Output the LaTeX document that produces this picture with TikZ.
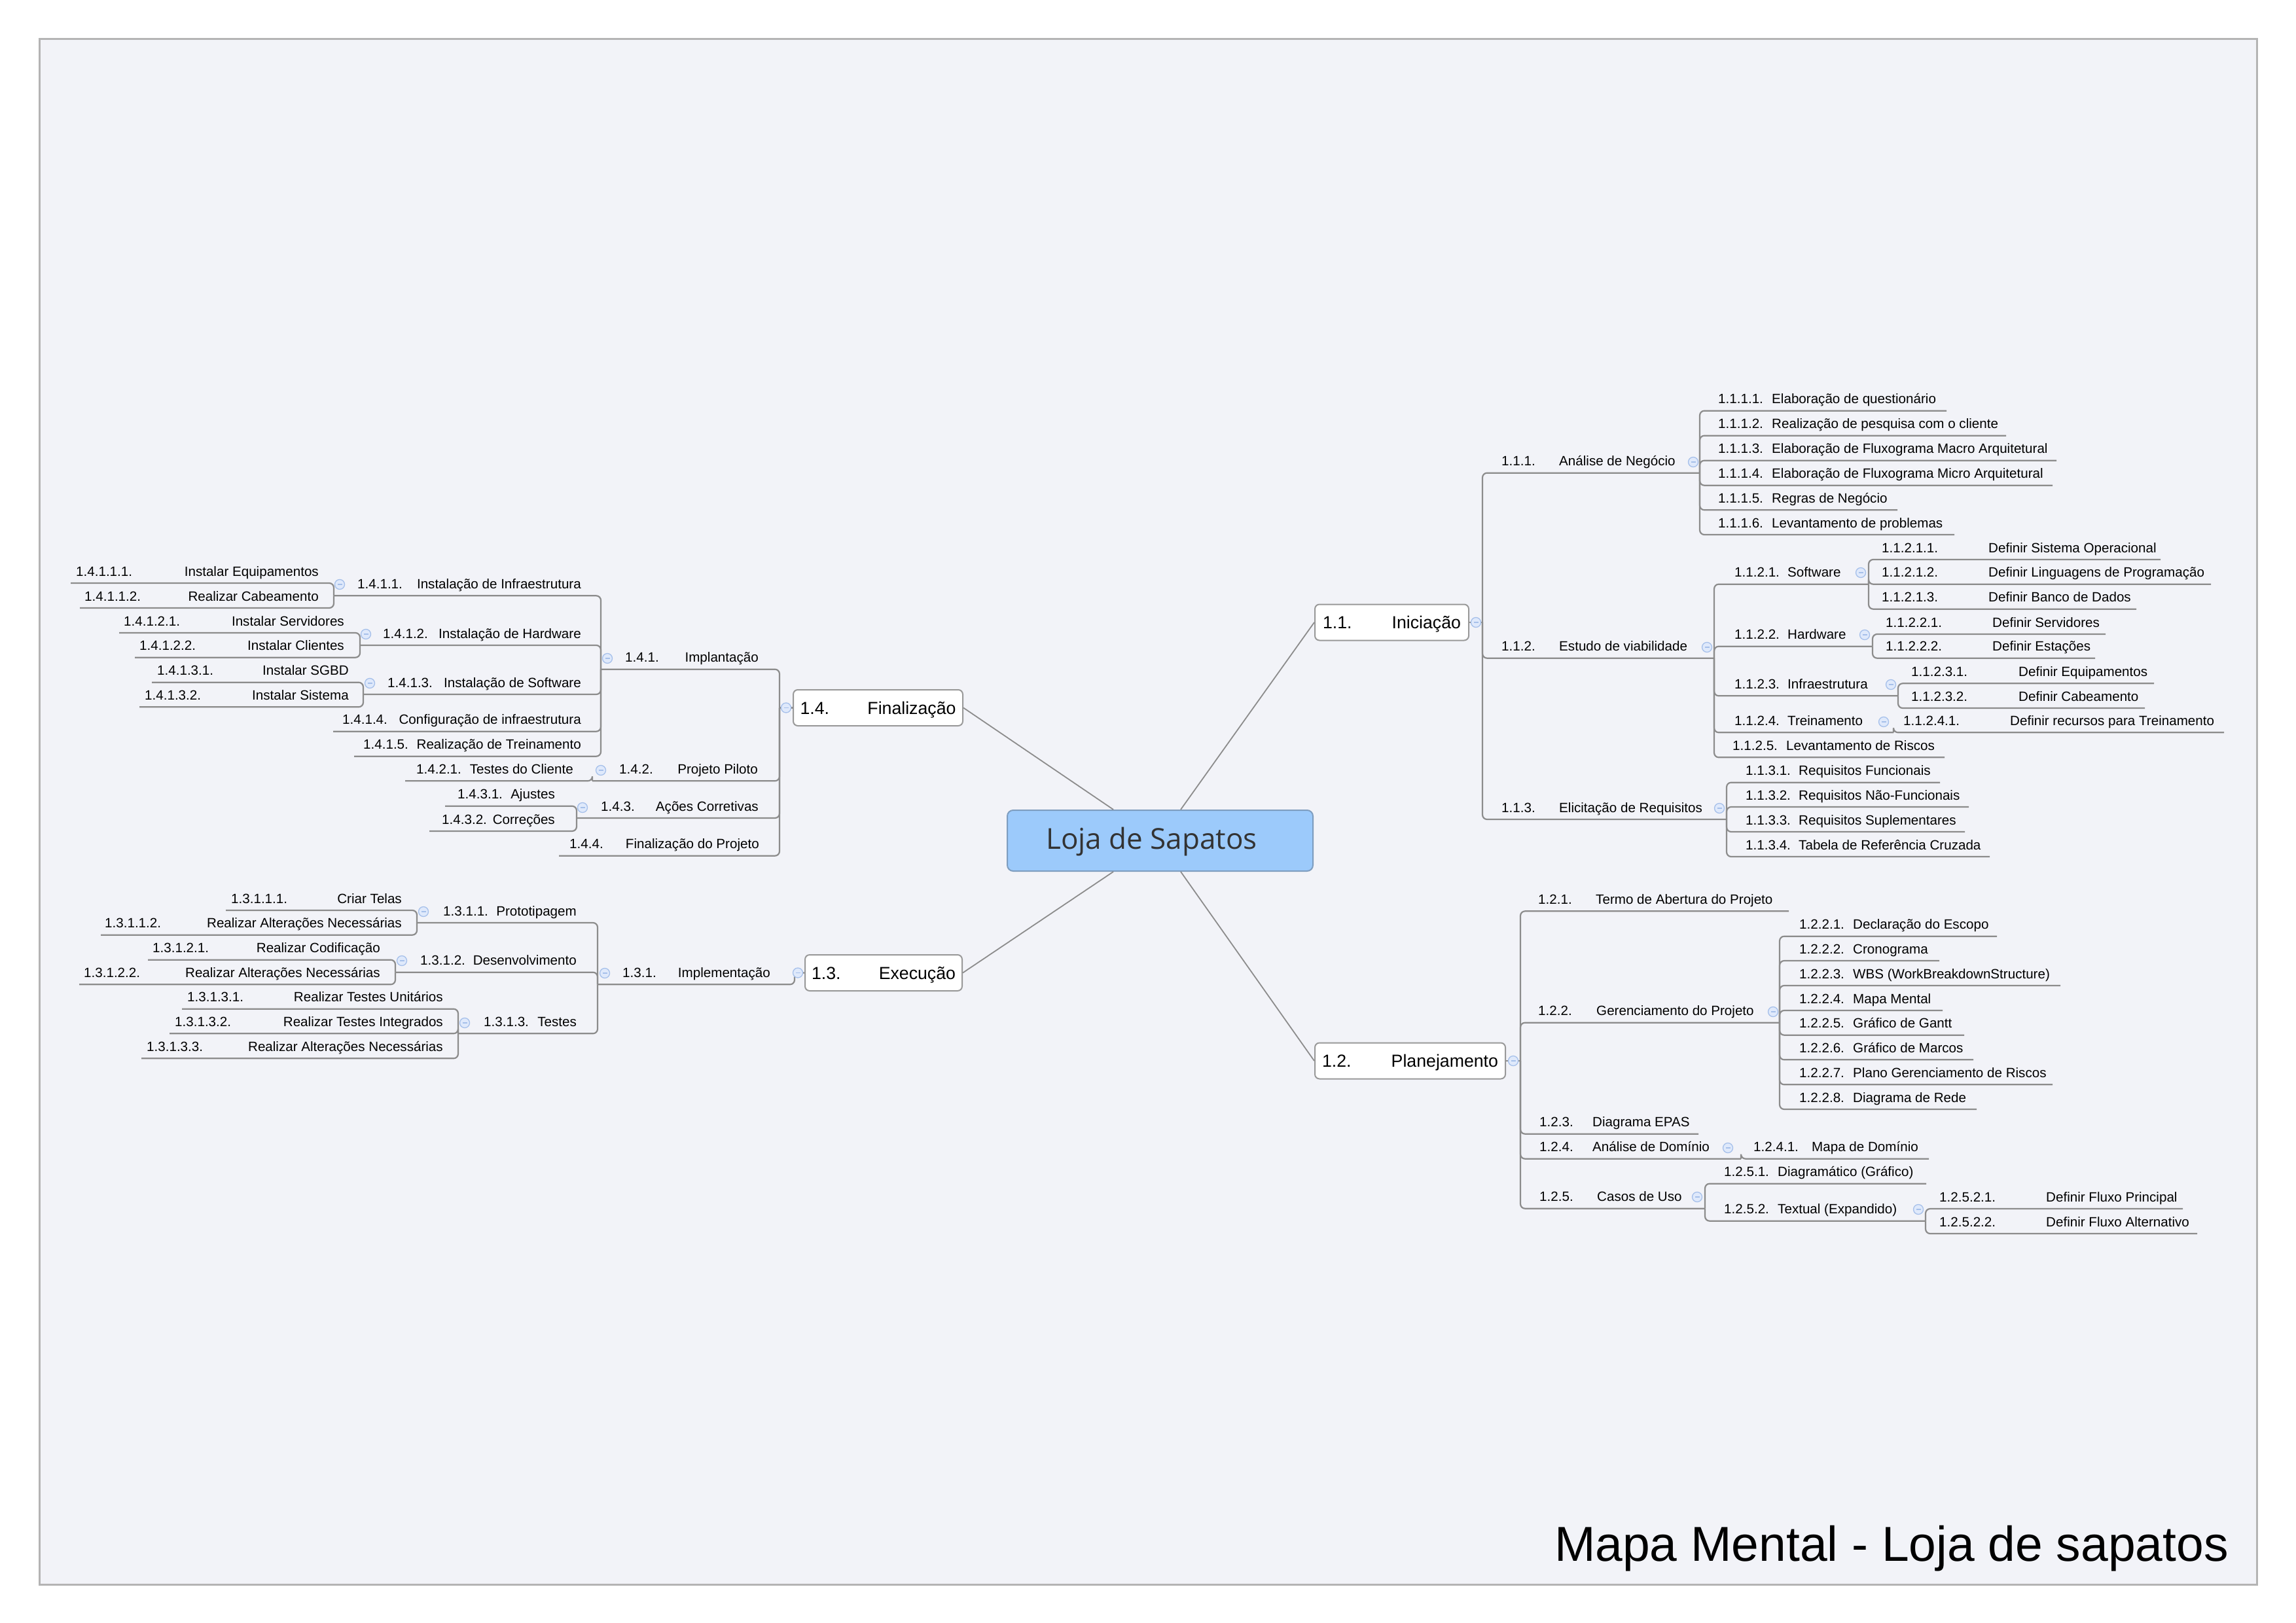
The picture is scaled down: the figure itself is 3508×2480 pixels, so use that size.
\documentclass[tikz,border=0pt]{standalone}
\usepackage{fontspec}
\setmainfont{Liberation Sans}
\newfontfamily\cfont{Open Sans}
\usetikzlibrary{calc}
\definecolor{bgc}{HTML}{F2F3F8}
\definecolor{framec}{HTML}{B4B4B4}
\definecolor{linec}{HTML}{8C8C8C}
\definecolor{boxb}{HTML}{999999}
\definecolor{cfill}{HTML}{9CCAFB}
\definecolor{cbord}{HTML}{7E9DBF}
\definecolor{btnf}{HTML}{DFE9FB}
\definecolor{btnb}{HTML}{A6C0EA}
\newcommand\mmR[7]{%
  \coordinate (#1) at (#2,#3);
  \node[txt,anchor=base west] (#1n) at (#4,#3-11) {#6};
  \node[txt,anchor=base west] (#1l) at (#5,#3-11) {#7};}
\newcommand\mmL[7]{%
  \coordinate (#1) at (#2,#3);
  \node[txt,anchor=base west] (#1n) at (#4,#3-11) {#6};
  \node[txt,anchor=base east] (#1l) at (#5,#3-11) {#7};}
\tikzset{
  conn/.style={draw=linec, line width=2.2pt, rounded corners=7pt},
  mainln/.style={draw=linec, line width=1.8pt},
  txt/.style={inner sep=0pt, font=\fontsize{20.6}{24}\selectfont, text=black},
  boxst/.style={draw=boxb, fill=white, line width=2pt, rounded corners=7pt, inner sep=0pt,
    font=\fontsize{26.7}{30}\selectfont, text height=19pt, text depth=0pt, minimum height=55pt},
  colbtn/.style={circle, draw=btnb, fill=btnf, line width=1.3pt, minimum size=15pt, inner sep=0pt,
    path picture={\draw[btnb, line width=1.3pt] ([xshift=-3.5pt]path picture bounding box.center) -- ([xshift=3.5pt]path picture bounding box.center);}}
}
\begin{document}
\begin{tikzpicture}[x=1pt,y=-1pt]
\useasboundingbox (0,0) rectangle (3508,2480);
\fill[white] (0,0) rectangle (3508,2480);
\draw[draw=framec, fill=bgc, line width=3pt] (60,60) rectangle (3448,2421);

% central and main boxes
\node[draw=cbord, fill=cfill, line width=2pt, rounded corners=9pt, minimum width=467pt, minimum height=93pt, inner sep=0pt] (c) at (1772.5,1284.5) {};
\node[anchor=base west, inner sep=0pt, font=\cfont\fontsize{44}{50}\selectfont, text=black!80] (ct) at (1598,1297) {Loja de Sapatos};

\node[boxst, minimum width=235pt] (b11) at (2126.5,951) {\makebox[211pt]{1.1.\hfill Iniciação}};
\node[boxst, minimum width=291pt] (b12) at (2154.5,1621) {\makebox[269pt]{1.2.\hfill Planejamento}};
\node[boxst, minimum width=259pt] (b14) at (1341.5,1081.5) {\makebox[238pt]{1.4.\hfill Finalização}};
\node[boxst, minimum width=240pt] (b13) at (1350,1486.5) {\makebox[220pt]{1.3.\hfill Execução}};

\draw[mainln] (b14.east) -- ($(c.north west)+(163,0)$);
\draw[mainln] (b13.east) -- ($(c.south west)+(163,0)$);
\draw[mainln] ($(c.north west)+(266,0)$) -- (b11.west);
\draw[mainln] ($(c.south west)+(266,0)$) -- (b12.west);

\coordinate (J11) at (2265,951);
\coordinate (J12) at (2323,1621);
\coordinate (J14) at (1191,1081.5);
\coordinate (J13) at (1214,1486.5);

% ---- right: 1.1
\mmR{t111}{2597}{722.7}{2294}{2382}{1.1.1.}{Análise de Negócio}
\mmR{t1111}{2974}{627.7}{2625}{2707}{1.1.1.1.}{Elaboração de questionário}
\mmR{t1112}{3065}{665.7}{2625}{2707}{1.1.1.2.}{Realização de pesquisa com o cliente}
\mmR{t1113}{3142}{703.7}{2625}{2707}{1.1.1.3.}{Elaboração de Fluxograma Macro Arquitetural}
\mmR{t1114}{3136}{741.7}{2625}{2707}{1.1.1.4.}{Elaboração de Fluxograma Micro Arquitetural}
\mmR{t1115}{2899}{779.3}{2625}{2707}{1.1.1.5.}{Regras de Negócio}
\mmR{t1116}{2986}{817}{2625}{2707}{1.1.1.6.}{Levantamento de problemas}
\mmR{t112}{2619}{1005.7}{2294}{2382}{1.1.2.}{Estudo de viabilidade}
\mmR{t1121}{2855}{892.7}{2650}{2731}{1.1.2.1.}{Software}
\mmR{t11211}{3301}{855}{2875}{3038}{1.1.2.1.1.}{Definir Sistema Operacional}
\mmR{t11212}{3378}{892.7}{2875}{3038}{1.1.2.1.2.}{Definir Linguagens de Programação}
\mmR{t11213}{3264}{930.7}{2875}{3038}{1.1.2.1.3.}{Definir Banco de Dados}
\mmR{t1122}{2861}{987.7}{2650}{2731}{1.1.2.2.}{Hardware}
\mmR{t11221}{3217}{969}{2881}{3044}{1.1.2.2.1.}{Definir Servidores}
\mmR{t11222}{3201}{1005.7}{2881}{3044}{1.1.2.2.2.}{Definir Estações}
\mmR{t1123}{2900}{1063.3}{2650}{2731}{1.1.2.3.}{Infraestrutura}
\mmR{t11231}{3291}{1044.3}{2920}{3084}{1.1.2.3.1.}{Definir Equipamentos}
\mmR{t11232}{3277}{1082}{2920}{3084}{1.1.2.3.2.}{Definir Cabeamento}
\mmR{t1124}{2893}{1119.3}{2650}{2731}{1.1.2.4.}{Treinamento}
\mmR{t11241}{3398}{1119.3}{2908}{3071}{1.1.2.4.1.}{Definir recursos para Treinamento}
\mmR{t1125}{2971}{1157.3}{2647}{2729}{1.1.2.5.}{Levantamento de Riscos}
\mmR{t113}{2638}{1252}{2294}{2382}{1.1.3.}{Elicitação de Requisitos}
\mmR{t1131}{2964}{1195.7}{2667}{2748}{1.1.3.1.}{Requisitos Funcionais}
\mmR{t1132}{3008}{1233}{2667}{2748}{1.1.3.2.}{Requisitos Não-Funcionais}
\mmR{t1133}{3002}{1271}{2667}{2748}{1.1.3.3.}{Requisitos Suplementares}
\mmR{t1134}{3040}{1309}{2667}{2748}{1.1.3.4.}{Tabela de Referência Cruzada}

% ---- right: 1.2
\mmR{t121}{2733}{1392.3}{2350}{2438}{1.2.1.}{Termo de Abertura do Projeto}
\mmR{t122}{2719}{1562.7}{2350}{2439}{1.2.2.}{Gerenciamento do Projeto}
\mmR{t1221}{3051}{1430.7}{2749}{2831}{1.2.2.1.}{Declaração do Escopo}
\mmR{t1222}{2963}{1468}{2749}{2831}{1.2.2.2.}{Cronograma}
\mmR{t1223}{3148}{1506}{2749}{2831}{1.2.2.3.}{WBS (WorkBreakdownStructure)}
\mmR{t1224}{2968}{1544}{2749}{2831}{1.2.2.4.}{Mapa Mental}
\mmR{t1225}{3001}{1581.7}{2749}{2831}{1.2.2.5.}{Gráfico de Gantt}
\mmR{t1226}{3015}{1619.3}{2749}{2831}{1.2.2.6.}{Gráfico de Marcos}
\mmR{t1227}{3136}{1657.3}{2749}{2831}{1.2.2.7.}{Plano Gerenciamento de Riscos}
\mmR{t1228}{3020}{1695}{2749}{2831}{1.2.2.8.}{Diagrama de Rede}
\mmR{t123}{2595}{1732.7}{2352}{2433}{1.2.3.}{Diagrama EPAS}
\mmR{t124}{2660}{1770.7}{2352}{2433}{1.2.4.}{Análise de Domínio}
\mmR{t1241}{2947}{1770.7}{2679}{2768}{1.2.4.1.}{Mapa de Domínio}
\mmR{t125}{2605}{1846.7}{2352}{2440}{1.2.5.}{Casos de Uso}
\mmR{t1251}{2943}{1808.7}{2634}{2716}{1.2.5.1.}{Diagramático (Gráfico)}
\mmR{t1252}{2942}{1865.7}{2634}{2716}{1.2.5.2.}{Textual (Expandido)}
\mmR{t12521}{3335}{1847}{2963}{3126}{1.2.5.2.1.}{Definir Fluxo Principal}
\mmR{t12522}{3357}{1885}{2963}{3126}{1.2.5.2.2.}{Definir Fluxo Alternativo}

% ---- left: 1.4
\mmL{t141}{918}{1022.7}{955}{1159}{1.4.1.}{Implantação}
\mmL{t1411}{510}{910.3}{546}{888}{1.4.1.1.}{Instalação de Infraestrutura}
\mmL{t14111}{108}{891}{116}{487}{1.4.1.1.1.}{Instalar Equipamentos}
\mmL{t14112}{122}{929}{129}{487}{1.4.1.1.2.}{Realizar Cabeamento}
\mmL{t1412}{550}{986}{585}{888}{1.4.1.2.}{Instalação de Hardware}
\mmL{t14121}{182}{967}{189}{526}{1.4.1.2.1.}{Instalar Servidores}
\mmL{t14122}{206}{1004.7}{213}{526}{1.4.1.2.2.}{Instalar Clientes}
\mmL{t1413}{555}{1061}{592}{888}{1.4.1.3.}{Instalação de Software}
\mmL{t14131}{232}{1042.7}{240}{533}{1.4.1.3.1.}{Instalar SGBD}
\mmL{t14132}{213}{1080.3}{221}{533}{1.4.1.3.2.}{Instalar Sistema}
\mmL{t1414}{509}{1117.7}{523}{888}{1.4.1.4.}{Configuração de infraestrutura}
\mmL{t1415}{541}{1155.7}{555}{888}{1.4.1.5.}{Realização de Treinamento}
\mmL{t142}{905}{1193.3}{946}{1158}{1.4.2.}{Projeto Piloto}
\mmL{t1421}{619}{1193.3}{636}{876}{1.4.2.1.}{Testes do Cliente}
\mmL{t143}{881}{1250}{918}{1159}{1.4.3.}{Ações Corretivas}
\mmL{t1431}{680}{1231.7}{699}{848}{1.4.3.1.}{Ajustes}
\mmL{t1432}{656}{1270}{675}{848}{1.4.3.2.}{Correções}
\mmL{t144}{854}{1307.7}{870}{1160}{1.4.4.}{Finalização do Projeto}

% ---- left: 1.3
\mmL{t131}{913}{1504.3}{951}{1177}{1.3.1.}{Implementação}
\mmL{t1311}{637}{1410}{677}{881}{1.3.1.1.}{Prototipagem}
\mmL{t13111}{345}{1391}{353}{614}{1.3.1.1.1.}{Criar Telas}
\mmL{t13112}{154}{1428.7}{160}{614}{1.3.1.1.2.}{Realizar Alterações Necessárias}
\mmL{t1312}{604}{1485.7}{642}{881}{1.3.1.2.}{Desenvolvimento}
\mmL{t13121}{226}{1466.7}{233}{581}{1.3.1.2.1.}{Realizar Codificação}
\mmL{t13122}{121}{1504.3}{128}{581}{1.3.1.2.2.}{Realizar Alterações Necessárias}
\mmL{t1313}{700}{1579.3}{739}{881}{1.3.1.3.}{Testes}
\mmL{t13131}{278}{1541.7}{286}{677}{1.3.1.3.1.}{Realizar Testes Unitários}
\mmL{t13132}{259}{1579.3}{267}{677}{1.3.1.3.2.}{Realizar Testes Integrados}
\mmL{t13133}{216}{1617.3}{224}{677}{1.3.1.3.3.}{Realizar Alterações Necessárias}

% connectors
\draw[conn] (b11.east) -- (J11);
\draw[conn] (b12.east) -- (J12);
\draw[conn] (b14.west) -- (J14);
\draw[conn] (b13.west) -- (J13) |- (t131);
\foreach \p/\q in {J11/t111,J11/t112,J11/t113,
  t111/t1111,t111/t1112,t111/t1113,t111/t1114,t111/t1115,t111/t1116,
  t112/t1121,t112/t1122,t112/t1123,t112/t1124,t112/t1125,
  t1121/t11211,t1121/t11212,t1121/t11213,t1122/t11221,t1122/t11222,
  t1123/t11231,t1123/t11232,t1124/t11241,
  t113/t1131,t113/t1132,t113/t1133,t113/t1134,
  J12/t121,J12/t122,J12/t123,J12/t124,J12/t125,
  t122/t1221,t122/t1222,t122/t1223,t122/t1224,t122/t1225,t122/t1226,t122/t1227,t122/t1228,
  t124/t1241,t125/t1251,t125/t1252,t1252/t12521,t1252/t12522,
  J14/t141,J14/t142,J14/t143,J14/t144,
  t141/t1411,t141/t1412,t141/t1413,t141/t1414,t141/t1415,
  t1411/t14111,t1411/t14112,t1412/t14121,t1412/t14122,t1413/t14131,t1413/t14132,
  t142/t1421,t143/t1431,t143/t1432,
  t131/t1311,t131/t1312,t131/t1313,
  t1311/t13111,t1311/t13112,t1312/t13121,t1312/t13122,
  t1313/t13131,t1313/t13132,t1313/t13133}
  {\draw[conn] (\p) |- (\q);}

% collapse buttons
\foreach \nm/\x/\y in {k11/2255/951, k12/2312/1621, k14/1201/1081.5, k13/1219/1486.5,
  k111/2587/706, k112/2608/989, k113/2627/1235, k1121/2843/875, k1122/2849/970,
  k1123/2889/1046, k1124/2878/1103, k122/2709/1546, k124/2640/1754, k125/2593/1829, k1252/2931/1848,
  k141/928/1006, k1411/519/893, k1412/559/969, k1413/565/1044, k142/918/1177, k143/890/1234,
  k131/924/1487, k1311/647/1393, k1312/614/1468, k1313/710/1563}
  {\node[colbtn] (\nm) at (\x,\y) {};}

\node[anchor=base east, inner sep=0pt, font=\fontsize{75}{80}\selectfont] (title) at (3405,2385) {Mapa Mental - Loja de sapatos};
\end{tikzpicture}
\end{document}
